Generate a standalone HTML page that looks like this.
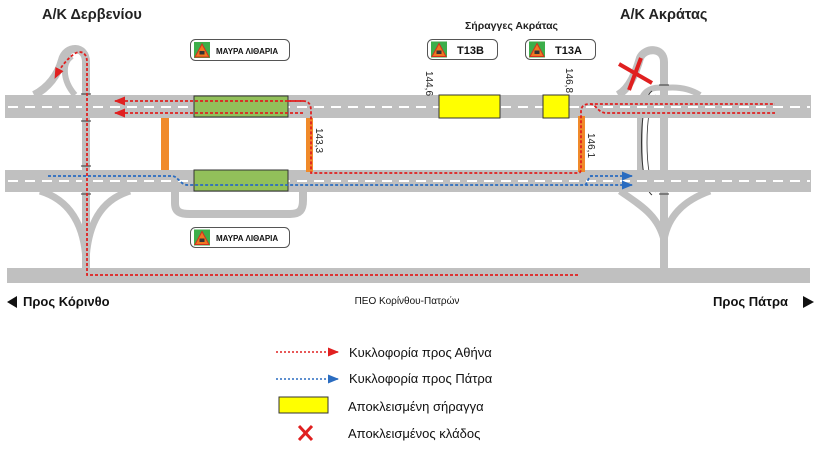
<!DOCTYPE html>
<html><head><meta charset="utf-8"><style>
html,body{margin:0;padding:0;background:#fff;}
svg{display:block;font-family:"Liberation Sans",sans-serif;}
</style></head><body>
<svg width="816" height="451" viewBox="0 0 816 451" xmlns="http://www.w3.org/2000/svg">
<defs>
<marker id="ar" markerWidth="11" markerHeight="9" refX="10" refY="4.5" orient="auto" markerUnits="userSpaceOnUse"><path d="M0,0 L11,4.5 L0,9Z" fill="#e02020"/></marker>
<marker id="ab" markerWidth="11" markerHeight="9" refX="10" refY="4.5" orient="auto" markerUnits="userSpaceOnUse"><path d="M0,0 L11,4.5 L0,9Z" fill="#2a6cc0"/></marker>
<g id="sicon"><rect x="0" y="0" width="16" height="16" fill="#3cae4a"/><path d="M8,2 L15,15 L1,15Z" fill="#f07820" stroke="#d03020" stroke-width="1"/><rect x="5.5" y="9" width="5" height="3.5" fill="#333"/></g>
</defs>
<g fill="none" stroke="#c0c0c0">
<path d="M86,95 L86,283" stroke-width="8"/>
<path d="M86,95 L86,62 C86,45 66,45 62,60 C58,75 48,88 34,95" stroke-width="8"/>
<path d="M75,95 C62,80 62,62 72,56" stroke-width="6"/>
<path d="M40,191 C70,200 84,225 86,260" stroke-width="7"/>
<path d="M130,191 C100,200 88,225 86,260" stroke-width="7"/>
<path d="M175,191 L175,203 C175,212 180,214 190,214 L290,214 C300,214 303,210 303,200 L303,191" stroke-width="8"/>
<path d="M664,95 L664,272" stroke-width="8"/>
<path d="M664,95 L664,62 C664,47 645,47 640,58 C636,72 630,88 618,95" stroke-width="8"/>
<path d="M664,88 C650,86 640,92 640,110 L640,180" stroke-width="6"/>
<path d="M664,88 C680,86 692,90 700,95" stroke-width="6"/>
<path d="M620,191 C640,205 658,215 664,240" stroke-width="7"/>
<path d="M710,191 C685,200 668,215 664,240" stroke-width="7"/>
</g>
<path d="M652,91 C638,100 638,185 652,195" fill="none" stroke="#333" stroke-width="1"/>
<path d="M656,95 C644,105 644,180 656,192" fill="none" stroke="#333" stroke-width="0.8"/>
<rect x="5" y="95" width="806" height="23" fill="#c0c0c0"/>
<rect x="5" y="170" width="806" height="22" fill="#c0c0c0"/>
<rect x="7" y="268" width="803" height="15" fill="#c0c0c0"/>
<line x1="8" y1="107" x2="810" y2="107" stroke="#fff" stroke-width="2" stroke-dasharray="10,7"/>
<line x1="8" y1="181" x2="810" y2="181" stroke="#fff" stroke-width="2" stroke-dasharray="10,7"/>
<rect x="82" y="95" width="8" height="96" fill="#c0c0c0"/>
<g stroke="#333" stroke-width="1" fill="none">
<path d="M81,94 h10"/><path d="M81,121 h10"/><path d="M81,166 h10"/><path d="M81,194 h10"/>
<path d="M659,85 h10"/><path d="M659,194 h10"/>
</g>
<rect x="194" y="96" width="94" height="21" fill="#92c05a" stroke="#333" stroke-width="1"/>
<rect x="194" y="170" width="94" height="21" fill="#92c05a" stroke="#333" stroke-width="1"/>
<rect x="161" y="118" width="8" height="52" fill="#f08a2a"/>
<rect x="306" y="118" width="7" height="54" fill="#f08a2a"/>
<rect x="578" y="116" width="7" height="56" fill="#f08a2a"/>
<rect x="439" y="95" width="61" height="23" fill="#ffff00" stroke="#333" stroke-width="1"/>
<rect x="543" y="95" width="26" height="23" fill="#ffff00" stroke="#333" stroke-width="1"/>
<g fill="none" stroke="#e02020" stroke-width="1.8" stroke-dasharray="3,2">
<path d="M303,101 L115,101" marker-end="url(#ar)"/>
<path d="M303,113 L115,113" marker-end="url(#ar)"/>
<path d="M288,101 L303,101 C310,101 311,106 311,112 L311,173 L578,173 C581,173 581,170 581,166 L581,112 C581,106 584,104 590,104 L775,104"/>
<path d="M590,104 C596,104 598,113 606,113 L775,113"/>
<path d="M578,275 L87,275 L87,62 C87,52 80,50 74,54 C66,60 60,68 55,78" marker-end="url(#ar)"/>
</g>
<g fill="none" stroke="#2a6cc0" stroke-width="1.8" stroke-dasharray="3,2">
<path d="M48,176 L172,176 C178,176 180,185 188,185 L632,185" marker-end="url(#ab)"/>
<path d="M590,176 L632,176" marker-end="url(#ab)"/>
<path d="M585,185 C588,183 588,176 592,176"/>
</g>
<g stroke="#e02020" stroke-width="4"><line x1="619" y1="64" x2="652" y2="83"/><line x1="641" y1="58" x2="629" y2="90"/></g>
<g font-size="10" fill="#222">
<text transform="translate(316,128) rotate(90)">143,3</text>
<text transform="translate(426,71) rotate(90)">144,6</text>
<text transform="translate(566,68) rotate(90)">146,8</text>
<text transform="translate(588,133) rotate(90)">146,1</text>
</g>
<rect x="190.5" y="39.5" width="99" height="21" rx="5" fill="#fff" stroke="#555"/>
<use href="#sicon" x="194" y="42"/>
<text x="216" y="54" font-size="8" font-weight="bold" fill="#111">ΜΑΥΡΑ ΛΙΘΑΡΙΑ</text>
<rect x="190.5" y="227.5" width="99" height="20" rx="5" fill="#fff" stroke="#555"/>
<use href="#sicon" x="194" y="229.5"/>
<text x="216" y="241" font-size="8" font-weight="bold" fill="#111">ΜΑΥΡΑ ΛΙΘΑΡΙΑ</text>
<rect x="427.5" y="39.5" width="70" height="20" rx="5" fill="#fff" stroke="#555"/>
<use href="#sicon" x="431" y="41.5"/>
<text x="457" y="54" font-size="11" font-weight="bold" fill="#111">T13B</text>
<rect x="525.5" y="39.5" width="70" height="20" rx="5" fill="#fff" stroke="#555"/>
<use href="#sicon" x="529" y="41.5"/>
<text x="555" y="54" font-size="11" font-weight="bold" fill="#111">T13A</text>
<text x="42" y="19" font-size="14.5" font-weight="bold" fill="#222">Α/Κ Δερβενίου</text>
<text x="620" y="19" font-size="14.5" font-weight="bold" fill="#222">Α/Κ Ακράτας</text>
<text x="465" y="29" font-size="10.5" font-weight="bold" fill="#222">Σήραγγες Ακράτας</text>
<path d="M7,302 L17,296 L17,308Z" fill="#111"/>
<text x="23" y="306" font-size="13" font-weight="bold" fill="#111">Προς Κόρινθο</text>
<text x="407" y="304" font-size="10" fill="#111" text-anchor="middle">ΠΕΟ Κορίνθου-Πατρών</text>
<text x="788" y="306" font-size="13" font-weight="bold" fill="#111" text-anchor="end">Προς Πάτρα</text>
<path d="M803,296 L814,302 L803,308Z" fill="#111"/>
<line x1="276" y1="352" x2="338" y2="352" stroke="#e02020" stroke-width="1.6" stroke-dasharray="2,2" marker-end="url(#ar)"/>
<line x1="276" y1="379" x2="338" y2="379" stroke="#2a6cc0" stroke-width="1.6" stroke-dasharray="2,2" marker-end="url(#ab)"/>
<rect x="279" y="397" width="49" height="16" fill="#ffff00" stroke="#333"/>
<g stroke="#e02020" stroke-width="3"><line x1="299" y1="426" x2="312" y2="440"/><line x1="312" y1="426" x2="299" y2="440"/></g>
<g font-size="13" fill="#111">
<text x="349" y="357">Κυκλοφορία προς Αθήνα</text>
<text x="349" y="383">Κυκλοφορία προς Πάτρα</text>
<text x="348" y="411">Αποκλεισμένη σήραγγα</text>
<text x="348" y="438">Αποκλεισμένος κλάδος</text>
</g>
</svg>
</body></html>
